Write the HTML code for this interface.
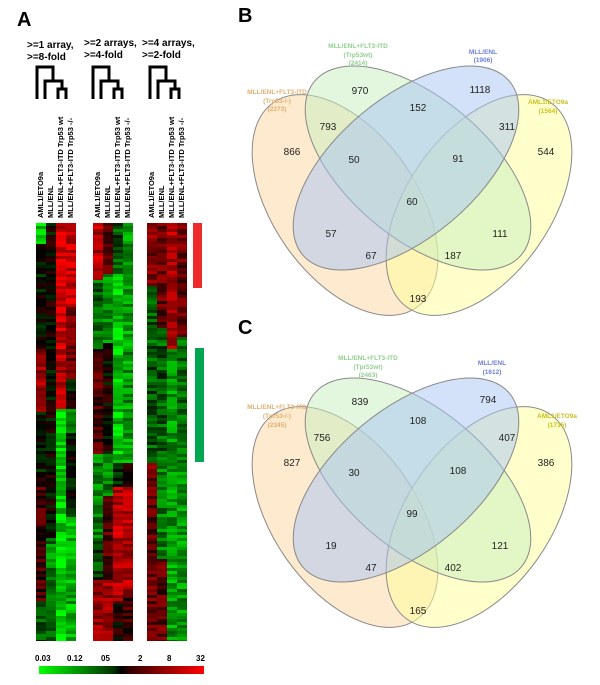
<!DOCTYPE html>
<html><head><meta charset="utf-8"><style>
body{margin:0;background:#fff;width:600px;height:685px;overflow:hidden;position:relative;font-family:"Liberation Sans",sans-serif}
</style></head><body>
<svg width="600" height="685" style="position:absolute;left:0;top:0" font-family="Liberation Sans, sans-serif">
<g id="hm"></g>
<text x="17" y="26" font-size="20" font-weight="bold">A</text>
<text x="238" y="22" font-size="20" font-weight="bold">B</text>
<text x="238" y="334" font-size="20" font-weight="bold">C</text>
<g font-size="10" font-weight="bold">
<text x="27" y="48">&gt;=1 array,</text><text x="27" y="60">&gt;=8-fold</text>
<text x="84" y="46">&gt;=2 arrays,</text><text x="84" y="58">&gt;=4-fold</text>
<text x="142" y="46">&gt;=4 arrays,</text><text x="142" y="58">&gt;=2-fold</text>
</g>
<g id="den" fill="none" stroke="#000" stroke-width="3">
<path d="M37 99V67H53V81M45 99V81H62V89M58 99V89H66V99"/>
</g>
<use href="#den" x="56"/><use href="#den" x="113"/>
<g font-size="7.5" font-weight="bold">
<g>
<text transform="translate(43,218) rotate(-90)">AML1/ETO9a</text>
<text transform="translate(53,218) rotate(-90)">MLL/ENL</text>
<text transform="translate(63,218) rotate(-90)">MLL/ENL+FLT3-ITD Trp53 wt</text>
<text transform="translate(73,218) rotate(-90)">MLL/ENL+FLT3-ITD Trp53 -/-</text>
</g>
<g transform="translate(57,0)">
<text transform="translate(43,218) rotate(-90)">AML1/ETO9a</text>
<text transform="translate(53,218) rotate(-90)">MLL/ENL</text>
<text transform="translate(63,218) rotate(-90)">MLL/ENL+FLT3-ITD Trp53 wt</text>
<text transform="translate(73,218) rotate(-90)">MLL/ENL+FLT3-ITD Trp53 -/-</text>
</g>
<g transform="translate(111,0)">
<text transform="translate(43,218) rotate(-90)">AML1/ETO9a</text>
<text transform="translate(53,218) rotate(-90)">MLL/ENL</text>
<text transform="translate(63,218) rotate(-90)">MLL/ENL+FLT3-ITD Trp53 wt</text>
<text transform="translate(73,218) rotate(-90)">MLL/ENL+FLT3-ITD Trp53 -/-</text>
</g>
</g>
<rect x="193" y="223" width="9" height="65" fill="#ee2a2a"/>
<rect x="195" y="348" width="9" height="114" fill="#00a651"/>
<defs><linearGradient id="cb"><stop offset="0" stop-color="#00ff00"/><stop offset="0.45" stop-color="#003300"/><stop offset="0.5" stop-color="#000"/><stop offset="0.55" stop-color="#330000"/><stop offset="1" stop-color="#ff0000"/></linearGradient></defs>
<rect x="39" y="666" width="165" height="8" fill="url(#cb)"/>
<g font-size="8" font-weight="bold">
<text x="35" y="661">0.03</text><text x="67" y="661">0.12</text><text x="101" y="661">05</text><text x="138" y="661">2</text><text x="167" y="661">8</text><text x="196" y="661">32</text>
</g>
<g id="venn" stroke="#888" stroke-width="1">
<ellipse cx="345" cy="205" rx="125" ry="72" transform="rotate(55 345 205)" fill="#fcd9a8" fill-opacity="0.55"/>
<ellipse cx="479" cy="205" rx="125" ry="72" transform="rotate(-55 479 205)" fill="#ffff99" fill-opacity="0.5"/>
<ellipse cx="418" cy="168" rx="135" ry="70" transform="rotate(40 418 168)" fill="#c8f0c0" fill-opacity="0.5"/>
<ellipse cx="406" cy="168" rx="135" ry="70" transform="rotate(-40 406 168)" fill="#a8c4f4" fill-opacity="0.5"/>
</g>
<use href="#venn" y="312"/>
<g font-size="10" text-anchor="middle" fill="#222">
<text x="360" y="94">970</text><text x="480" y="93">1118</text><text x="418" y="111">152</text><text x="328" y="130">793</text><text x="507" y="130">311</text>
<text x="292" y="155">866</text><text x="354" y="163">50</text><text x="458" y="162">91</text><text x="546" y="155">544</text><text x="412" y="205">60</text>
<text x="331" y="237">57</text><text x="500" y="237">111</text><text x="371" y="259">67</text><text x="453" y="259">187</text><text x="418" y="302">193</text>
<text x="360" y="405">839</text><text x="488" y="403">794</text><text x="418" y="424">108</text><text x="322" y="441">756</text><text x="507" y="441">407</text>
<text x="292" y="466">827</text><text x="354" y="476">30</text><text x="458" y="474">108</text><text x="546" y="466">386</text><text x="412" y="517">99</text>
<text x="331" y="549">19</text><text x="500" y="549">121</text><text x="371" y="571">47</text><text x="453" y="571">402</text><text x="418" y="614">165</text>
</g>
<g font-size="6.5" font-weight="bold" text-anchor="middle">
<g fill="#8fcf8f"><text x="358" y="48">MLL/ENL+FLT3-ITD</text><text x="358" y="57">(Trp53wt)</text><text x="358" y="65">(2414)</text></g>
<g fill="#6b7fd6"><text x="483" y="54">MLL/ENL</text><text x="483" y="62">(1906)</text></g>
<g fill="#e0b070"><text x="277" y="94">MLL/ENL+FLT3-ITD</text><text x="277" y="103">(Trp53-/-)</text><text x="277" y="111">(2273)</text></g>
<g fill="#c8c020"><text x="548" y="104">AML1/ETO9a</text><text x="548" y="113">(1564)</text></g>
<g fill="#8fcf8f"><text x="368" y="360">MLL/ENL+FLT3-ITD</text><text x="368" y="369">(Tpr53wt)</text><text x="368" y="377">(2463)</text></g>
<g fill="#6b7fd6"><text x="492" y="365">MLL/ENL</text><text x="492" y="374">(1612)</text></g>
<g fill="#e0b070"><text x="277" y="409">MLL/ENL+FLT3-ITD</text><text x="277" y="418">(Tpr53-/-)</text><text x="277" y="427">(2345)</text></g>
<g fill="#c8c020"><text x="557" y="418">AML1/ETO9a</text><text x="557" y="427">(1735)</text></g>
</g>
</svg>
<script>
var g=document.getElementById('hm');
var H=418,Y0=223,NS='http://www.w3.org/2000/svg';
var maps=[
 [36,[[0,.05,-.8],[.05,.3,-.05],[.3,.45,.6],[.45,.6,-.1],[.6,.9,.25],[.9,1,-.3]],
     [[0,.75,0],[.75,1,-.5]],
     [[0,.3,.8],[.3,.44,.7],[.44,1,-.8]],
     [[0,.2,.8],[.2,.37,.4],[.37,.44,0],[.44,.5,-.5],[.5,.7,-.05],[.7,1,-.7]]],
 [93,[[0,.13,.7],[.13,.3,-.4],[.3,.55,.3],[.55,.75,-.5],[.75,.85,-.3],[.85,1,.6]],
     [[0,.12,.4],[.12,.28,-.6],[.28,.55,.05],[.55,.65,-.5],[.65,.85,.35],[.85,1,.6]],
     [[0,.12,-.3],[.12,.57,-.75],[.57,.63,-.1],[.63,.9,.7],[.9,1,.1]],
     [[0,.57,-.6],[.57,.63,0],[.63,.87,.7],[.87,1,.2]]],
 [147,[[0,.15,.5],[.15,.57,-.35],[.57,1,.4]],
     [[0,.25,.4],[.25,.57,-.35],[.57,.8,-.5],[.8,1,.35]],
     [[0,.3,.7],[.3,.57,-.6],[.57,1,-.6]],
     [[0,.27,.4],[.27,.57,-.45],[.57,1,-.6]]]
];
var s=7;function rnd(){s=(s*16807)%2147483647;return s/2147483647;}
maps.forEach(function(m){
 var x0=m[0];
 for(var c=0;c<4;c++){
  var segs=m[c+1];
  for(var y=0;y<H;y+=3){
   var f=y/H,v=0;
   segs.forEach(function(q){if(f>=q[0]&&f<q[1])v=q[2];});
   v+=(rnd()-.5)*0.5;
   if(v>1)v=1;if(v<-1)v=-1;
   var r=0,gg=0;
   if(v>0)r=Math.round(255*v);else gg=Math.round(255*-v);
   var e=document.createElementNS(NS,'rect');
   e.setAttribute('x',x0+c*10);e.setAttribute('y',Y0+y);
   e.setAttribute('width',10);e.setAttribute('height',Math.min(3,H-y));
   e.setAttribute('fill','rgb('+r+','+gg+',0)');
   g.appendChild(e);
  }
 }
});
</script>
</body></html>
